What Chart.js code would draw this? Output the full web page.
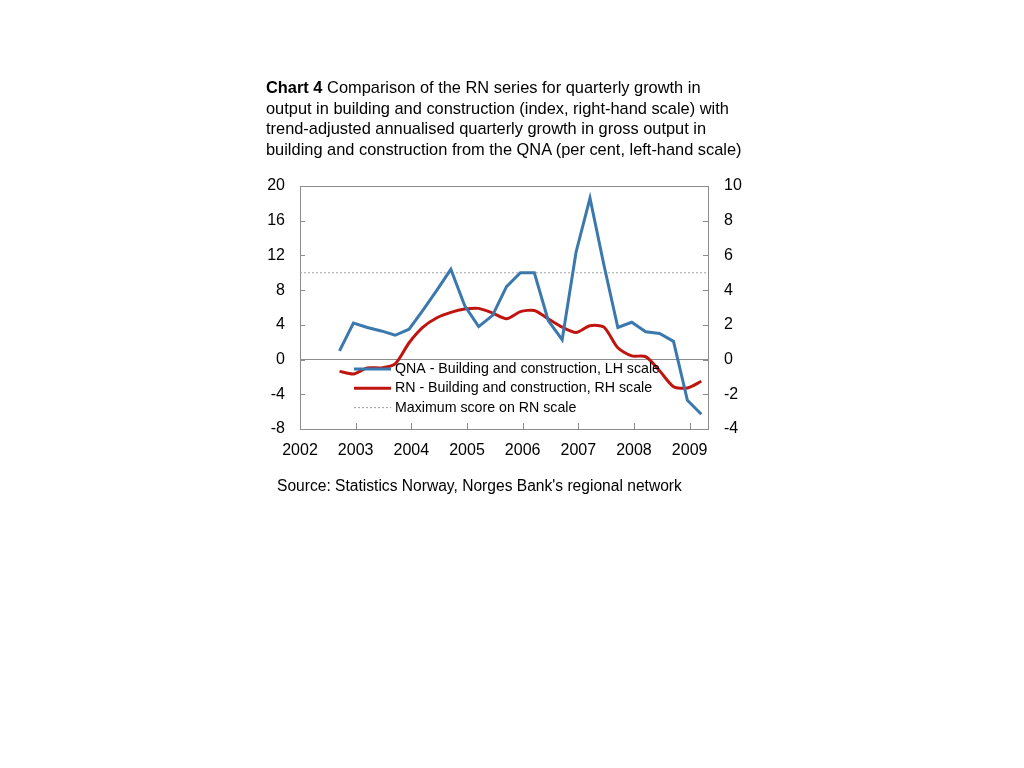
<!DOCTYPE html>
<html>
<head>
<meta charset="utf-8">
<script src="https://cdn.jsdelivr.net/npm/chart.js@4.4.1/dist/chart.umd.min.js"></script>
<style>
  body { margin: 0; background: #fff; font-family: "Liberation Sans", Arial, sans-serif; }
  #wrap { position: relative; width: 1024px; height: 768px; }
  #chart { position: absolute; left: 0; top: 0; }
  .title { position: absolute; left: 266px; top: 77px; font-size: 16.4px; line-height: 20.5px; white-space: nowrap; color: #000; }
  .source { position: absolute; left: 277px; top: 477px; font-size: 15.6px; line-height: 18px; white-space: nowrap; color: #000; }
</style>
</head>
<body>
<div id="wrap">
  <canvas id="chart" width="1024" height="768"></canvas>
  <div class="title"><b>Chart 4</b> Comparison of the RN series for quarterly growth in<br>output in building and construction (index, right-hand scale) with<br>trend-adjusted annualised quarterly growth in gross output in<br>building and construction from the QNA (per cent, left-hand scale)</div>
  <div class="source">Source: Statistics Norway, Norges Bank's regional network</div>
</div>
<script>
// Quarters, 2002 Q3 to 2009 Q1
const quarters = [
  '2002Q3', '2002Q4',
  '2003Q1', '2003Q2', '2003Q3', '2003Q4',
  '2004Q1', '2004Q2', '2004Q3', '2004Q4',
  '2005Q1', '2005Q2', '2005Q3', '2005Q4',
  '2006Q1', '2006Q2', '2006Q3', '2006Q4',
  '2007Q1', '2007Q2', '2007Q3', '2007Q4',
  '2008Q1', '2008Q2', '2008Q3', '2008Q4',
  '2009Q1',
];

// QNA - annualised quarterly growth, per cent (left-hand scale)
const qnaGrowth = [
  1.0, 4.2,
  3.7, 3.3, 2.8, 3.5,
  5.7, 8.0, 10.4, 6.2,
  3.8, 5.1, 8.4, 10.0,
  10.0, 4.5, 2.3, 12.4,
  18.6, 10.9, 3.7, 4.3,
  3.2, 3.0, 2.1, -4.7,
  -6.3,
];

// RN - index (right-hand scale)
const rnIndex = [
  -0.68, -0.83,
  -0.48, -0.48, -0.25, 0.97,
  1.87, 2.41, 2.72, 2.91,
  2.95, 2.68, 2.35, 2.76,
  2.83, 2.35, 1.87, 1.56,
  1.95, 1.87, 0.68, 0.21,
  0.17, -0.64, -1.56, -1.64,
  -1.25,
];

const maxRnScore = 5;

// x axis: years
const xMin = 2002;
const xMax = 2009.33;
const yearTicks = [2002, 2003, 2004, 2005, 2006, 2007, 2008, 2009];

// left / right axis ranges
const leftMin = -8, leftMax = 20, leftStep = 4;
const rightMin = -4, rightMax = 10, rightStep = 2;

const axisGrey = '#8c8c8c';
const blue = '#3b78ae';
const red = '#c0150f';

// place each quarter on the year axis
const qx = (q) => Number(q.slice(0, 4)) + (Number(q.slice(5)) - 1) * 0.25 + 0.21;

const qnaPoints = quarters.map((q, i) => ({ x: qx(q), y: qnaGrowth[i] }));
const rnPoints = quarters.map((q, i) => ({ x: qx(q), y: rnIndex[i] }));
const maxPoints = [{ x: xMin, y: maxRnScore }, { x: xMax, y: maxRnScore }];

// box round the plot + tick marks pointing inwards
const frame = {
  id: 'frame',
  beforeDatasetsDraw(chart) {
    const { ctx, chartArea: a, scales } = chart;
    ctx.save();
    ctx.strokeStyle = axisGrey;
    ctx.lineWidth = 1;
    ctx.beginPath();
    scales.y.ticks.forEach((t) => {
      const y = Math.round(scales.y.getPixelForValue(t.value)) + 0.5;
      ctx.moveTo(a.left, y); ctx.lineTo(a.left + 5, y);
    });
    scales.y1.ticks.forEach((t) => {
      const y = Math.round(scales.y1.getPixelForValue(t.value)) + 0.5;
      ctx.moveTo(a.right - 5, y); ctx.lineTo(a.right, y);
    });
    scales.x.ticks.forEach((t) => {
      const x = Math.round(scales.x.getPixelForValue(t.value)) + 0.5;
      ctx.moveTo(x, a.bottom); ctx.lineTo(x, a.bottom - 6);
    });
    ctx.stroke();
    ctx.strokeRect(Math.round(a.left) + 0.5, Math.round(a.top) + 0.5,
      Math.round(a.right - a.left), Math.round(a.bottom - a.top));
    ctx.restore();
  },
};

// legend drawn inside the plot, on top of the lines
const innerLegend = {
  id: 'innerLegend',
  afterDatasetsDraw(chart) {
    const { ctx } = chart;
    ctx.save();
    ctx.font = '14.2px "Liberation Sans", Arial, sans-serif';
    ctx.textBaseline = 'middle';
    ctx.fillStyle = '#000';
    chart.data.datasets.forEach((ds, i) => {
      const y = 369 + i * 19.3;
      ctx.beginPath();
      ctx.strokeStyle = ds.borderColor;
      ctx.lineWidth = ds.borderWidth;
      ctx.setLineDash(ds.borderDash || []);
      ctx.moveTo(354, y); ctx.lineTo(391, y);
      ctx.stroke();
      ctx.setLineDash([]);
      ctx.fillText(ds.label, 395, y);
    });
    ctx.restore();
  },
};

const tickFont = { family: '"Liberation Sans", Arial, sans-serif', size: 16 };

new Chart(document.getElementById('chart'), {
  type: 'line',
  data: {
    datasets: [
      {
        label: 'QNA - Building and construction, LH scale',
        data: qnaPoints,
        yAxisID: 'y',
        borderColor: blue,
        borderWidth: 3,
        pointRadius: 0,
        tension: 0,
      },
      {
        label: 'RN - Building and construction, RH scale',
        data: rnPoints,
        yAxisID: 'y1',
        borderColor: red,
        borderWidth: 3,
        pointRadius: 0,
        tension: 0.25,
      },
      {
        label: 'Maximum score on RN scale',
        data: maxPoints,
        yAxisID: 'y1',
        borderColor: '#a0a0a0',
        borderWidth: 1,
        borderDash: [2, 2],
        pointRadius: 0,
      },
    ],
  },
  options: {
    responsive: false,
    animation: false,
    devicePixelRatio: 1,
    layout: { padding: { left: 250, right: 266, top: 186, bottom: 309 } },
    scales: {
      x: {
        type: 'linear',
        min: xMin,
        max: xMax,
        afterBuildTicks: (s) => { s.ticks = yearTicks.map((v) => ({ value: v })); },
        afterFit: (s) => { s.height = 30; },
        grid: { display: false, drawTicks: false },
        border: { display: false },
        ticks: { color: '#000', font: tickFont, padding: 12, maxRotation: 0, callback: (v) => String(v) },
      },
      y: {
        position: 'left',
        min: leftMin,
        max: leftMax,
        afterFit: (s) => { s.width = 50; },
        grid: {
          drawTicks: false,
          color: (c) => (c.tick && c.tick.value === 0 ? axisGrey : 'rgba(0,0,0,0)'),
        },
        border: { display: false },
        ticks: { stepSize: leftStep, color: '#000', font: tickFont, padding: 15 },
      },
      y1: {
        position: 'right',
        min: rightMin,
        max: rightMax,
        afterFit: (s) => { s.width = 50; },
        grid: { display: false, drawTicks: false },
        border: { display: false },
        ticks: { stepSize: rightStep, color: '#000', font: tickFont, padding: 16 },
      },
    },
    plugins: {
      legend: { display: false },
      tooltip: { enabled: false },
    },
  },
  plugins: [frame, innerLegend],
});
</script>
</body>
</html>
